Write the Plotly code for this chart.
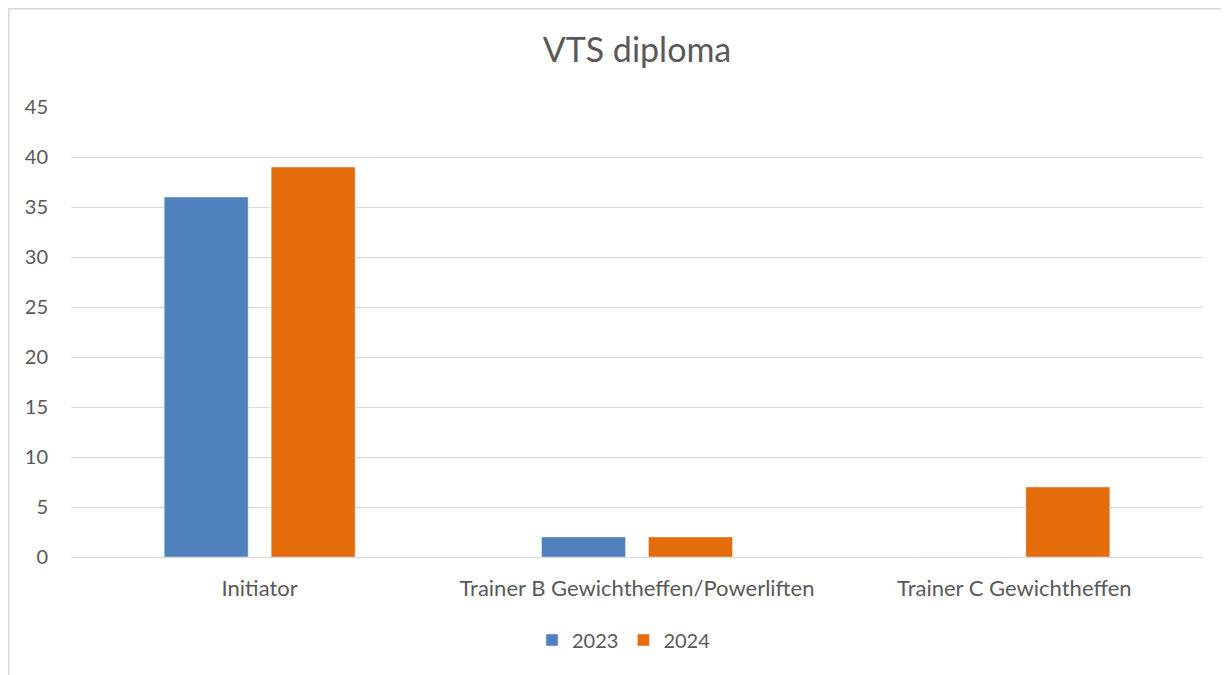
import plotly.graph_objects as go

categories = ["Initiator", "Trainer B Gewichtheffen/Powerliften", "Trainer C Gewichtheffen"]
values_2023 = [36, 2, 0]
values_2024 = [39, 2, 7]
series_names = ["2023", "2024"]
y_ticks = [0, 5, 10, 15, 20, 25, 30, 35, 40, 45]

OFF = 8  # page body margin
W, H = 1229 - OFF, 675 - OFF
L, R, T, B = 71 - OFF, 26, 107 - OFF, 118
pw, ph = W - L - R, H - T - B

def px_x(x):
    return (x - OFF - L) / pw

def px_y(y):
    return (H - B - (y - OFF)) / ph

text_col = "#595959"
font_fam = "Lato, Open Sans, sans-serif"

fig = go.Figure()
fig.add_trace(go.Bar(x=categories, y=values_2023, name=series_names[0], marker_color="#4F81BD"))
fig.add_trace(go.Bar(x=categories, y=values_2024, name=series_names[1], marker_color="#E46C0A"))

fig.update_layout(
    width=W, height=H,
    margin=dict(l=L, r=R, t=T, b=B),
    paper_bgcolor="white", plot_bgcolor="white",
    barmode="group", bargap=0.433, bargroupgap=0.215,
    title=dict(text="VTS diploma", x=0.5, xref="paper", xanchor="center",
               y=1 - (50 - OFF) / H, yanchor="middle",
               font=dict(family=font_fam, size=34, color=text_col)),
    font=dict(family=font_fam, color=text_col),
    xaxis=dict(showgrid=False, showline=False, zeroline=False, ticks="",
               ticklabelstandoff=16,
               tickfont=dict(size=22, color=text_col)),
    yaxis=dict(range=[0, 45], tickvals=y_ticks, showgrid=True, gridcolor="#D9D9D9", gridwidth=1,
               zeroline=True, zerolinecolor="#D9D9D9", zerolinewidth=1, showline=False,
               ticks="", ticklabelstandoff=22,
               tickfont=dict(size=20, color=text_col)),
    legend=dict(orientation="h", x=px_x(624), xanchor="center", xref="paper",
                y=px_y(640), yanchor="middle", font=dict(size=20, color=text_col),
                itemwidth=30, traceorder="normal"),
    shapes=[dict(type="rect", xref="paper", yref="paper",
                 x0=px_x(8.8), x1=px_x(1240), y0=px_y(690), y1=px_y(8.8),
                 line=dict(color="#D9D9D9", width=1.5), fillcolor="rgba(0,0,0,0)", layer="below")],
)

fig.write_html("out.html")
